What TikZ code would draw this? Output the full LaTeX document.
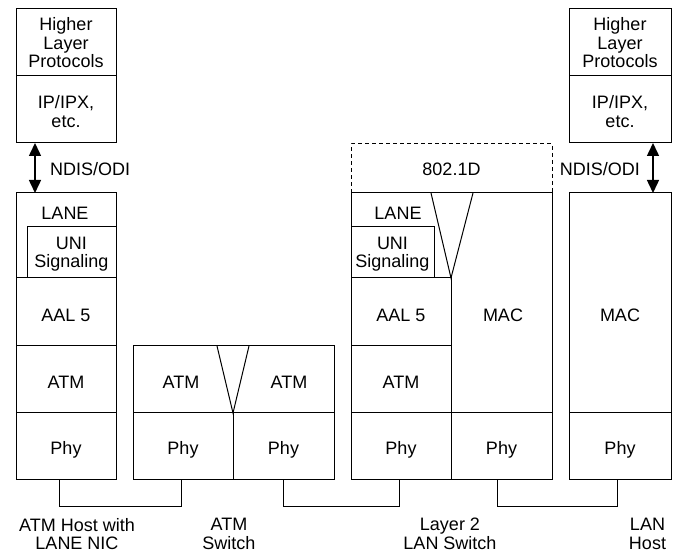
\documentclass[tikz,border=0pt]{standalone}
\usepackage{fontspec}
\setmainfont{Liberation Sans}
\usetikzlibrary{arrows.meta}
\tikzset{
  box/.style={draw, line width=1pt, inner sep=0pt, outer sep=0pt},
  txt/.style={inner sep=0pt, align=center, font=\fontsize{18}{18.5}\selectfont},
  dblarrow/.style={line width=1.5pt, {Triangle[length=13pt,width=12pt]}-{Triangle[length=13pt,width=12pt]}},
  wire/.style={line width=1pt},
}
\newcommand\cell[7]{%
  \pgfmathsetmacro\cx{(#2+#4)/2}\pgfmathsetmacro\cy{(#3+#5)/2}%
  \pgfmathsetmacro\cw{#4-#2}\pgfmathsetmacro\ch{#5-#3}%
  \node[box, minimum width=\cw pt, minimum height=\ch pt] (#1) at (\cx,\cy) {};%
  \node[txt] (#1-t) at ([yshift=-#7pt]#1.center) {#6};}
\begin{document}
\begin{tikzpicture}[x=1pt,y=-1pt]
\useasboundingbox (0,0) rectangle (681,553);
% ---- ATM host with LANE NIC
\cell{hlp1}{16}{9}{116}{76}{Higher\\Layer\\Protocols}{0.5}
\cell{ip1}{16}{76}{116}{143}{IP/IPX,\\etc.}{2}
\cell{lane1}{16}{193}{116}{278}{}{0}
\node[txt] (lane1l) at (65,213) {LANE};
\cell{uni1}{27}{227}{116}{278}{UNI\\Signaling}{1.5}
\cell{aal1}{16}{278}{116}{346}{AAL 5}{3}
\cell{atm1}{16}{346}{116}{413}{ATM}{3}
\cell{phy1}{16}{413}{116}{480}{Phy}{3.5}
\draw[dblarrow] ([xshift=-31pt]ip1.south) -- ([xshift=-31pt]lane1.north);
\node[txt, anchor=west] (ndis1) at (50,169.5) {NDIS/ODI};
% ---- ATM switch
\cell{atmsw}{133}{346}{334}{413}{}{0}
\node[txt] (atm2a) at (181,382.5) {ATM};
\node[txt] (atm2b) at (289,382.5) {ATM};
\draw[wire] (217,346) -- (233,413) -- (249,346);
\cell{phy2a}{133}{413}{233}{480}{Phy}{3.5}
\cell{phy2b}{233}{413}{334}{480}{Phy}{3.5}
% ---- Layer 2 LAN switch
\draw[line width=1pt, dash pattern=on 4pt off 3pt] (351,193) -- (351,144) -- (552,144) -- (552,193);
\node[txt] (d8021) at (451.5,169) {802.1D};
\cell{sw3}{351}{193}{552}{480}{}{0}
\node[txt] (lane3l) at (398,213) {LANE};
\cell{uni3}{351}{227}{434}{278}{UNI\\Signaling}{1.5}
\draw[wire] (431,193) -- (451,278) -- (473,193);
\cell{aal3}{351}{278}{451}{346}{AAL 5}{3}
\cell{atm3}{351}{346}{451}{413}{ATM}{3}
\cell{phy3a}{351}{413}{451}{480}{Phy}{3.5}
\cell{phy3b}{451}{413}{552}{480}{Phy}{3.5}
\node[txt] (mac3) at (503,315) {MAC};
% ---- LAN host
\cell{hlp2}{569}{9}{671}{76}{Higher\\Layer\\Protocols}{0.5}
\cell{ip2}{569}{76}{671}{143}{IP/IPX,\\etc.}{2}
\cell{mac4}{569}{193}{671}{413}{MAC}{12}
\cell{phy4}{569}{413}{671}{480}{Phy}{3.5}
\draw[dblarrow] ([xshift=33pt]ip2.south) -- ([xshift=33pt]mac4.north);
\node[txt, anchor=east] (ndis2) at (640,169.5) {NDIS/ODI};
% ---- links
\draw[wire] ([xshift=-7pt]phy1.south) -- ++(0,27) -| ([xshift=-2pt]phy2a.south);
\draw[wire] ([xshift=-0.5pt]phy2b.south) -- ++(0,27) -| ([xshift=-2pt]phy3a.south);
\draw[wire] ([xshift=-4.5pt]phy3b.south) -- ++(0,27) -| ([xshift=-3pt]phy4.south);
% ---- captions
\node[txt, align=center] (cap1) at (77,534) {ATM Host with\\LANE NIC};
\node[txt, align=center] (cap2) at (229,534) {ATM\\Switch};
\node[txt, align=center] (cap3) at (450,534) {Layer 2\\LAN Switch};
\node[txt, align=center] (cap4) at (647.5,534) {LAN\\Host};
\end{tikzpicture}
\end{document}
